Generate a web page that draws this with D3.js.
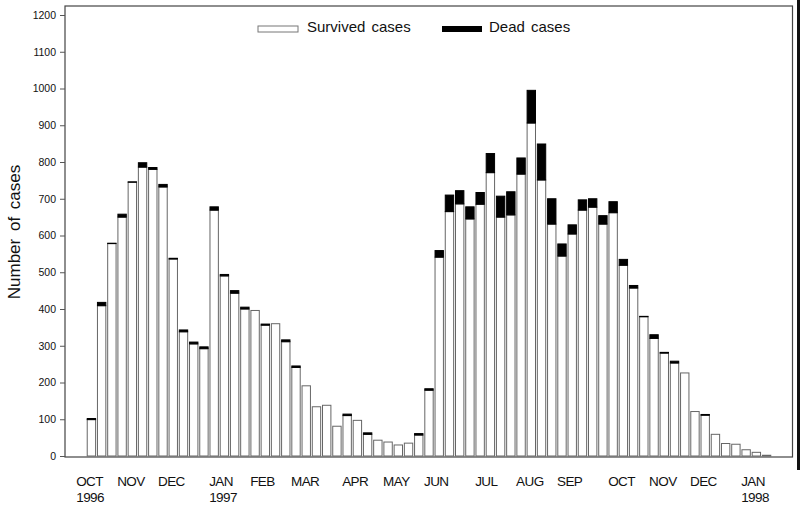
<!DOCTYPE html>
<html>
<head>
<meta charset="utf-8">
<script src="https://cdn.jsdelivr.net/npm/d3@7"></script>
<style>
  body { margin: 0; background: #fff; }
  svg { font-family: "Liberation Sans", Arial, sans-serif; }
</style>
</head>
<body>
<svg width="800" height="510"></svg>
<script>
// weekly cases, Oct 1996 - Jan 1998
var survived = [99, 409, 578, 650, 745, 786, 780, 732, 536, 338, 305, 292,
  669, 490, 443, 400, 396, 356, 360, 311, 241, 191, 134, 138, 81, 110, 97,
  59, 43, 38, 30, 35, 57, 179, 541, 665, 686, 645, 685, 771, 650, 656, 767,
  906, 751, 631, 544, 604, 669, 677, 631, 662, 519, 457, 379, 320, 280, 253,
  226, 121, 111, 59, 34, 32, 17, 10, 2];
var dead = [3, 9, 1, 8, 1, 12, 5, 7, 2, 5, 5, 5,
  9, 4, 7, 5, 0, 3, 0, 5, 4, 0, 0, 0, 0, 4, 0,
  4, 0, 0, 0, 0, 4, 4, 18, 45, 36, 33, 32, 52, 57, 63, 44,
  89, 98, 69, 33, 25, 28, 23, 23, 30, 16, 7, 1, 10, 2, 5,
  0, 0, 2, 0, 0, 0, 0, 0, 0];
var monthLabels = ["OCT", "NOV", "DEC", "JAN", "FEB", "MAR", "APR", "MAY",
  "JUN", "JUL", "AUG", "SEP", "OCT", "NOV", "DEC", "JAN"];
var monthWeek = [0, 4, 8, 13, 17, 21, 26, 30, 34, 39, 43, 47, 52, 56, 60, 65];
var yearLabels = ["1996", "", "", "1997", "", "", "", "", "", "", "", "", "", "", "", "1998"];
var yTicks = d3.range(0, 1300, 100);

var svg = d3.select("svg");

var weeks = d3.range(survived.length);
var x = d3.scaleBand().domain(weeks).range([86.3, 771.7])
  .paddingInner(0.18).paddingOuter(0.09);
var y = d3.scaleLinear().domain([0, 1200]).range([456, 15]);

var rows = weeks.map(function (i) { return { week: i, survived: survived[i], dead: dead[i] }; });
var series = d3.stack().keys(["survived", "dead"])(rows);

// frame
svg.append("rect")
  .attr("x", 65).attr("y", 6)
  .attr("width", 727.5).attr("height", 451)
  .attr("fill", "none").attr("stroke", "#444").attr("stroke-width", 1.2);

// scan edge on the right
svg.append("rect").attr("x", 797).attr("y", 0).attr("width", 3).attr("height", 470).attr("fill", "#111");

// y axis
var yAxis = svg.append("g")
  .attr("transform", "translate(65,0)")
  .call(d3.axisLeft(y).tickValues(yTicks).tickFormat(d3.format("d")).tickSize(5).tickPadding(4));
yAxis.select(".domain").remove();
yAxis.selectAll("line").attr("stroke", "#555");
yAxis.selectAll("text").attr("font-size", "10.5px").attr("fill", "#111")
  .attr("font-family", "'Liberation Sans', Arial, sans-serif");

svg.append("text")
  .attr("transform", "translate(20,232) rotate(-90)")
  .attr("text-anchor", "middle")
  .attr("font-size", "17px")
  .attr("word-spacing", "3px")
  .attr("fill", "#111")
  .text("Number of cases");

// bars
var fills = { survived: "#fff", dead: "#000" };
svg.append("g").selectAll("g")
  .data(series)
  .enter().append("g")
  .selectAll("rect")
  .data(function (s) { return s.map(function (d) { d.key = s.key; return d; }); })
  .enter().append("rect")
  .filter(function (d) { return d[1] > d[0]; })
  .attr("x", function (d) { return x(d.data.week); })
  .attr("y", function (d) { return y(d[1]); })
  .attr("width", x.bandwidth())
  .attr("height", function (d) { return y(d[0]) - y(d[1]); })
  .attr("fill", function (d) { return fills[d.key]; })
  .attr("stroke", function (d) { return d.key == "dead" ? "#000" : "#666"; })
  .attr("stroke-width", 1);

// month labels
var xl = svg.append("g").attr("font-size", "13.5px").attr("fill", "#111").attr("letter-spacing", "-0.6px");
xl.selectAll("text.m")
  .data(monthLabels)
  .enter().append("text")
  .attr("class", "m")
  .attr("x", function (d, i) { return x(monthWeek[i]) - 11; })
  .attr("y", 486)
  .text(function (d) { return d; });
xl.selectAll("text.yr")
  .data(yearLabels)
  .enter().append("text")
  .attr("class", "yr")
  .attr("x", function (d, i) { return x(monthWeek[i]) - 11; })
  .attr("y", 502)
  .text(function (d) { return d; });

// legend
var legend = svg.append("g").attr("font-size", "15px").attr("fill", "#111").attr("word-spacing", "2px");
legend.append("rect").attr("x", 258).attr("y", 26).attr("width", 40).attr("height", 6)
  .attr("fill", "#fff").attr("stroke", "#777").attr("stroke-width", 1);
legend.append("text").attr("x", 307).attr("y", 32).text("Survived cases");
legend.append("rect").attr("x", 442).attr("y", 26).attr("width", 40).attr("height", 6)
  .attr("fill", "#000");
legend.append("text").attr("x", 489).attr("y", 32).text("Dead cases");
</script>
</body>
</html>
